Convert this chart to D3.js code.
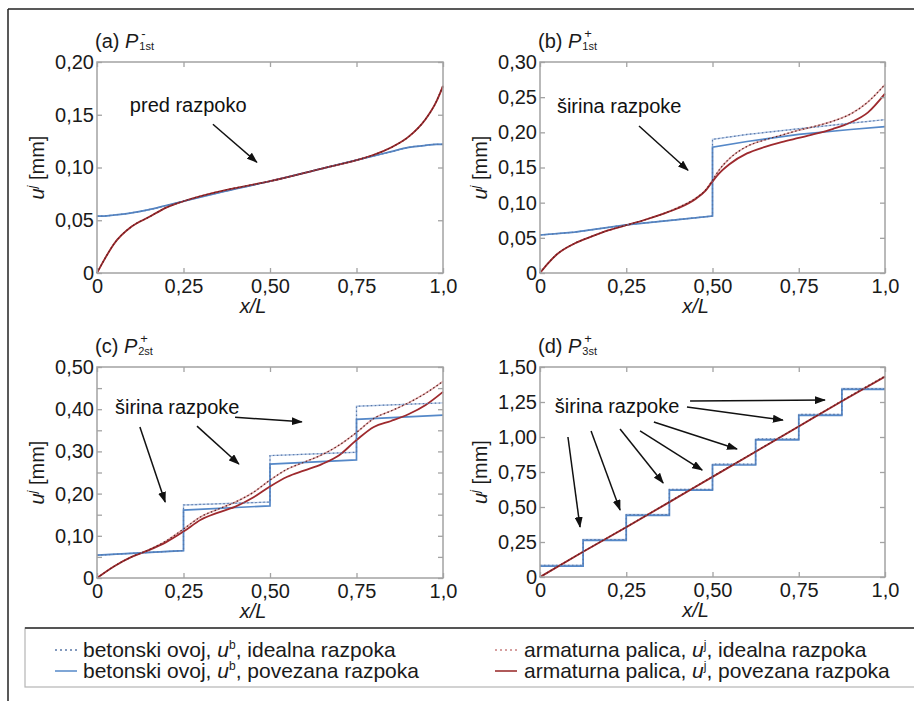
<!DOCTYPE html>
<html>
<head>
<meta charset="utf-8">
<script src="https://cdn.jsdelivr.net/npm/d3@7"></script>
<style>
body { margin: 0; background: #fff; }
svg { display: block; font-family: "Liberation Sans", Arial, sans-serif; }
</style>
</head>
<body>
<svg id="canvas" width="914" height="701"></svg>
<script>
// ---- data ----
var xTicks = [0, 0.25, 0.5, 0.75, 1.0];
var xTickLabels = ["0", "0,25", "0,50", "0,75", "1,0"];

// (a) P-1st, before cracking
var xA = [0, 0.02, 0.05, 0.1, 0.15, 0.2, 0.25, 0.35, 0.5, 0.65, 0.75, 0.8, 0.85, 0.9, 0.95, 0.98, 1.0];
var betonPovA = [0.054, 0.054, 0.055, 0.057, 0.060, 0.064, 0.068, 0.076, 0.087, 0.099, 0.107, 0.111, 0.115, 0.119, 0.121, 0.122, 0.122];
var betonIdA  = [0.054, 0.054, 0.055, 0.057, 0.060, 0.064, 0.068, 0.076, 0.087, 0.099, 0.107, 0.111, 0.115, 0.119, 0.121, 0.122, 0.122];
var armPovA   = [0, 0.012, 0.028, 0.044, 0.053, 0.062, 0.068, 0.077, 0.087, 0.099, 0.107, 0.112, 0.119, 0.129, 0.146, 0.162, 0.177];
var armIdA    = [0, 0.012, 0.028, 0.044, 0.053, 0.062, 0.068, 0.077, 0.087, 0.099, 0.107, 0.112, 0.119, 0.129, 0.146, 0.162, 0.178];
var yTicksA = [0, 0.05, 0.10, 0.15, 0.20];
var yLabelsA = ["0", "0,05", "0,10", "0,15", "0,20"];

// (b) P+1st, one crack
var xBetonB = [0, 0.1, 0.25, 0.4, 0.5, 0.5, 0.6, 0.75, 0.9, 1.0];
var betonPovB = [0.054, 0.058, 0.0685, 0.076, 0.081, 0.179, 0.187, 0.197, 0.204, 0.208];
var betonIdB  = [0.054, 0.058, 0.0685, 0.076, 0.081, 0.190, 0.197, 0.205, 0.213, 0.218];
var xArmB = [0, 0.02, 0.05, 0.1, 0.15, 0.2, 0.25, 0.3, 0.35, 0.4, 0.45, 0.48, 0.5, 0.52, 0.55, 0.6, 0.65, 0.7, 0.75, 0.8, 0.85, 0.9, 0.95, 1.0];
var armPovB = [0, 0.012, 0.027, 0.042, 0.052, 0.061, 0.068, 0.075, 0.083, 0.092, 0.105, 0.117, 0.130, 0.142, 0.155, 0.170, 0.179, 0.186, 0.192, 0.198, 0.205, 0.214, 0.228, 0.255];
var armIdB  = [0, 0.012, 0.027, 0.042, 0.052, 0.061, 0.068, 0.075, 0.083, 0.093, 0.106, 0.118, 0.132, 0.147, 0.163, 0.180, 0.189, 0.196, 0.203, 0.209, 0.216, 0.226, 0.243, 0.268];
var yTicksB = [0, 0.05, 0.10, 0.15, 0.20, 0.25, 0.30];
var yLabelsB = ["0", "0,05", "0,10", "0,15", "0,20", "0,25", "0,30"];

// (c) P+2st, three cracks
var xBetonC = [0, 0.25, 0.25, 0.5, 0.5, 0.75, 0.75, 1.0];
var betonPovC = [0.054, 0.065, 0.161, 0.171, 0.270, 0.280, 0.376, 0.386];
var betonIdC  = [0.054, 0.065, 0.173, 0.180, 0.290, 0.298, 0.407, 0.415];
var xArmC = [0, 0.05, 0.1, 0.15, 0.2, 0.25, 0.3, 0.35, 0.4, 0.45, 0.5, 0.55, 0.6, 0.65, 0.7, 0.75, 0.8, 0.85, 0.9, 0.95, 1.0];
var armPovC = [0, 0.028, 0.050, 0.066, 0.085, 0.110, 0.138, 0.155, 0.169, 0.190, 0.217, 0.240, 0.255, 0.270, 0.291, 0.327, 0.358, 0.372, 0.388, 0.410, 0.441];
var armIdC  = [0, 0.028, 0.050, 0.067, 0.088, 0.116, 0.145, 0.163, 0.180, 0.202, 0.232, 0.258, 0.275, 0.292, 0.315, 0.345, 0.378, 0.396, 0.415, 0.438, 0.466];
var yTicksC = [0, 0.10, 0.20, 0.30, 0.40, 0.50];
var yMinorC = [0.05, 0.15, 0.25, 0.35, 0.45];
var yLabelsC = ["0", "0,10", "0,20", "0,30", "0,40", "0,50"];

// (d) P+3st, seven cracks
var xBetonD = [0, 0.125, 0.125, 0.25, 0.25, 0.375, 0.375, 0.5, 0.5, 0.625, 0.625, 0.75, 0.75, 0.875, 0.875, 1.0];
var betonPovD = [0.078, 0.078, 0.262, 0.262, 0.440, 0.440, 0.620, 0.620, 0.800, 0.800, 0.980, 0.980, 1.155, 1.155, 1.340, 1.340];
var betonIdD  = [0.084, 0.084, 0.268, 0.268, 0.446, 0.446, 0.626, 0.626, 0.806, 0.806, 0.986, 0.986, 1.161, 1.161, 1.346, 1.346];
var xArmD = [0, 0.125, 0.25, 0.375, 0.5, 0.625, 0.75, 0.875, 1.0];
var armPovD = [0, 0.180, 0.355, 0.535, 0.715, 0.895, 1.075, 1.255, 1.430];
var armIdD  = [0, 0.181, 0.357, 0.537, 0.717, 0.897, 1.077, 1.258, 1.435];
var yTicksD = [0, 0.25, 0.50, 0.75, 1.00, 1.25, 1.50];
var yLabelsD = ["0", "0,25", "0,50", "0,75", "1,00", "1,25", "1,50"];

// annotations, in data units: [x0, y0, x1, y1]
var notesA = [[0.335, 0.141, 0.462, 0.105]];
var notesB = [[0.287, 0.209, 0.429, 0.146]];
var notesC = [[0.124, 0.358, 0.197, 0.180], [0.289, 0.360, 0.410, 0.270], [0.399, 0.381, 0.592, 0.370]];
var notesD = [[0.435, 1.257, 0.826, 1.264], [0.426, 1.214, 0.704, 1.121], [0.330, 1.107, 0.571, 0.914],
              [0.290, 1.043, 0.470, 0.764], [0.232, 1.057, 0.357, 0.671], [0.148, 1.043, 0.232, 0.479],
              [0.081, 1.000, 0.116, 0.357]];

var legendItems = ["betonski ovoj, ", "armaturna palica, "];
var legendTails = [", idealna razpoka", ", povezana razpoka"];

var svg = d3.select("#canvas");

svg.append("defs").append("marker")
    .attr("id", "arrow")
    .attr("markerUnits", "userSpaceOnUse")
    .attr("markerWidth", 11).attr("markerHeight", 8)
    .attr("refX", 10).attr("refY", 4)
    .attr("orient", "auto")
  .append("path")
    .attr("d", "M0,0 L11,4 L0,8 Z")
    .attr("fill", "#111");

// outer frame lines
svg.append("line").attr("x1", 8).attr("y1", 9).attr("x2", 914).attr("y2", 9)
    .attr("stroke", "#222").attr("stroke-width", 1.5);
svg.append("line").attr("x1", 8).attr("y1", 9).attr("x2", 8).attr("y2", 701)
    .attr("stroke", "#222").attr("stroke-width", 1.5);

var panels = [
  {tag: "(a) ", sup: "-", sub: "1st", left: 97, top: 62, right: 443, bottom: 273, yMax: 0.2,
   yTicks: yTicksA, yLabels: yLabelsA, yMinor: [],
   beton: [[xA, betonIdA, betonPovA]], arm: [xA, armIdA, armPovA], smoothBeton: true,
   note: "pred razpoko", noteAt: [0.095, 0.1526], arrows: notesA},
  {tag: "(b) ", sup: "+", sub: "1st", left: 540, top: 62, right: 885, bottom: 273, yMax: 0.3,
   yTicks: yTicksB, yLabels: yLabelsB, yMinor: [],
   beton: [[xBetonB, betonIdB, betonPovB]], arm: [xArmB, armIdB, armPovB], smoothBeton: false,
   note: "širina razpoke", noteAt: [0.049, 0.2275], arrows: notesB},
  {tag: "(c) ", sup: "+", sub: "2st", left: 97, top: 367, right: 443, bottom: 578, yMax: 0.5,
   yTicks: yTicksC, yLabels: yLabelsC, yMinor: yMinorC,
   beton: [[xBetonC, betonIdC, betonPovC]], arm: [xArmC, armIdC, armPovC], smoothBeton: false,
   note: "širina razpoke", noteAt: [0.052, 0.3886], arrows: notesC},
  {tag: "(d) ", sup: "+", sub: "3st", left: 540, top: 367, right: 885, bottom: 577, yMax: 1.5,
   yTicks: yTicksD, yLabels: yLabelsD, yMinor: [],
   beton: [[xBetonD, betonIdD, betonPovD]], arm: [xArmD, armIdD, armPovD], smoothBeton: false,
   note: "širina razpoke", noteAt: [0.043, 1.171], arrows: notesD}
];

var BLUE = "#5588c8", BLUE_LIGHT = "#b3c8e6", BLUE_DOT = "#5a78a8";
var RED = "#9e2a2e", RED_LIGHT = "#e2a8a8", RED_DOT = "#5a2222";

function drawPanel(p) {
  var x = d3.scaleLinear().domain([0, 1]).range([p.left, p.right]);
  var y = d3.scaleLinear().domain([0, p.yMax]).range([p.bottom, p.top]);
  var g = svg.append("g");

  var smooth = d3.line().x(function(d) { return x(d[0]); }).y(function(d) { return y(d[1]); }).curve(d3.curveMonotoneX);
  var straight = d3.line().x(function(d) { return x(d[0]); }).y(function(d) { return y(d[1]); });

  var bLine = p.smoothBeton ? smooth : straight;
  var b = p.beton[0];
  var bId = d3.zip(b[0], b[1]);
  var bPov = d3.zip(b[0], b[2]);
  var aId = d3.zip(p.arm[0], p.arm[1]);
  var aPov = d3.zip(p.arm[0], p.arm[2]);

  // ideal underlays
  g.append("path").attr("d", bLine(bId)).attr("fill", "none").attr("stroke", BLUE_LIGHT).attr("stroke-width", 1.4);
  g.append("path").attr("d", smooth(aId)).attr("fill", "none").attr("stroke", RED_LIGHT).attr("stroke-width", 1.6);
  // connected crack (solid)
  g.append("path").attr("d", bLine(bPov)).attr("fill", "none").attr("stroke", BLUE).attr("stroke-width", 1.7);
  g.append("path").attr("d", smooth(aPov)).attr("fill", "none").attr("stroke", RED).attr("stroke-width", 1.8);
  // ideal crack (dotted overlay)
  g.append("path").attr("d", bLine(bId)).attr("fill", "none").attr("stroke", BLUE_DOT)
      .attr("stroke-width", 1.2).attr("stroke-dasharray", "1.5,2.5");
  g.append("path").attr("d", smooth(aId)).attr("fill", "none").attr("stroke", RED_DOT)
      .attr("stroke-width", 1.2).attr("stroke-dasharray", "1.5,2.5");

  // box
  g.append("rect").attr("x", p.left).attr("y", p.top)
      .attr("width", p.right - p.left).attr("height", p.bottom - p.top)
      .attr("fill", "none").attr("stroke", "#a3a3a3").attr("stroke-width", 1.5);

  var allY = p.yTicks.concat(p.yMinor);

  g.append("g").attr("transform", "translate(0," + p.bottom + ")")
      .call(d3.axisBottom(x).tickValues(xTicks).tickFormat(function(d, i) { return xTickLabels[i]; })
            .tickSizeInner(-5).tickSizeOuter(0).tickPadding(6));
  g.append("g").attr("transform", "translate(" + p.left + ",0)")
      .call(d3.axisLeft(y).tickValues(p.yTicks).tickFormat(function(d, i) { return p.yLabels[i]; })
            .tickSizeInner(-5).tickSizeOuter(0).tickPadding(3));
  g.append("g").attr("transform", "translate(" + p.left + ",0)")
      .call(d3.axisLeft(y).tickValues(p.yMinor).tickFormat("").tickSizeInner(-5).tickSizeOuter(0));
  g.append("g").attr("transform", "translate(" + p.right + ",0)")
      .call(d3.axisRight(y).tickValues(allY).tickFormat("").tickSizeInner(-5).tickSizeOuter(0));
  g.append("g").attr("transform", "translate(0," + p.top + ")")
      .call(d3.axisTop(x).tickValues(xTicks).tickFormat("").tickSizeInner(-5).tickSizeOuter(0));

  g.selectAll(".domain").remove();
  g.selectAll(".tick line").attr("stroke", "#a3a3a3").attr("stroke-width", 1.3);
  g.selectAll(".tick text").attr("fill", "#1a1a1a").style("font-size", "20px")
      .style("font-family", "'Liberation Sans', Arial, sans-serif");

  // axis titles
  g.append("text").attr("x", (p.left + p.right) / 2 - 17).attr("y", p.bottom + 40)
      .attr("text-anchor", "middle").style("font-size", "20px").style("font-style", "italic")
      .attr("fill", "#1a1a1a").text("x/L");

  var yl = g.append("text")
      .attr("transform", "translate(" + (p.left - 53) + "," + ((p.top + p.bottom) / 2) + ") rotate(-90)")
      .attr("text-anchor", "middle").style("font-size", "20px").attr("fill", "#1a1a1a");
  yl.append("tspan").style("font-style", "italic").text("u");
  yl.append("tspan").style("font-style", "italic").style("font-size", "12px").attr("dy", -8).text("j");
  yl.append("tspan").attr("dy", 8).text(" [mm]");

  // panel title
  var t = g.append("text").attr("x", p.left - 2).attr("y", p.top - 14)
      .style("font-size", "20px").attr("fill", "#1a1a1a");
  t.append("tspan").text(p.tag);
  t.append("tspan").style("font-style", "italic").text("P");
  var w = t.node().getComputedTextLength();
  g.append("text").attr("x", p.left - 2 + w + 3).attr("y", p.top - 24)
      .style("font-size", "13px").attr("fill", "#1a1a1a").text(p.sup);
  g.append("text").attr("x", p.left - 2 + w + 1).attr("y", p.top - 12)
      .style("font-size", "11px").attr("fill", "#1a1a1a").text(p.sub);

  // annotation
  g.append("text").attr("x", x(p.noteAt[0])).attr("y", y(p.noteAt[1]))
      .style("font-size", "20px").attr("fill", "#111").text(p.note);
  g.selectAll(".note-arrow").data(p.arrows).enter().append("line")
      .attr("class", "note-arrow")
      .attr("x1", function(d) { return x(d[0]); }).attr("y1", function(d) { return y(d[1]); })
      .attr("x2", function(d) { return x(d[2]); }).attr("y2", function(d) { return y(d[3]); })
      .attr("stroke", "#111").attr("stroke-width", 1.5).attr("marker-end", "url(#arrow)");
}

panels.forEach(drawPanel);

// legend
var lg = svg.append("g");
lg.append("rect").attr("x", 25).attr("y", 628).attr("width", 900).attr("height", 59)
    .attr("fill", "#fff").attr("stroke", "#b5b5b5").attr("stroke-width", 1.2);
lg.append("line").attr("x1", 25).attr("y1", 628).attr("x2", 914).attr("y2", 628)
    .attr("stroke", "#555").attr("stroke-width", 2);

var legendCols = [
  {sampleX: 55, textX: 83, name: legendItems[0], sup: "b", colors: [BLUE_DOT, "#7fa6d6"]},
  {sampleX: 495, textX: 524, name: legendItems[1], sup: "j", colors: ["#c98080", "#b05a5a"]}
];
var rowY = [657, 678];

legendCols.forEach(function(c) {
  rowY.forEach(function(ry, r) {
    lg.append("line").attr("x1", c.sampleX).attr("x2", c.sampleX + 22)
        .attr("y1", ry - 7).attr("y2", ry - 7)
        .attr("stroke", c.colors[r]).attr("stroke-width", r === 0 ? 1.3 : 2)
        .attr("stroke-dasharray", r === 0 ? "2,3" : null);
    var tx = lg.append("text").attr("x", c.textX).attr("y", ry)
        .style("font-size", "21px").attr("fill", "#1a1a1a");
    tx.append("tspan").text(c.name);
    tx.append("tspan").style("font-style", "italic").text("u");
    tx.append("tspan").style("font-size", "12px").attr("dy", -8).text(c.sup);
    tx.append("tspan").attr("dy", 8).text(legendTails[r]);
  });
});
</script>
</body>
</html>
